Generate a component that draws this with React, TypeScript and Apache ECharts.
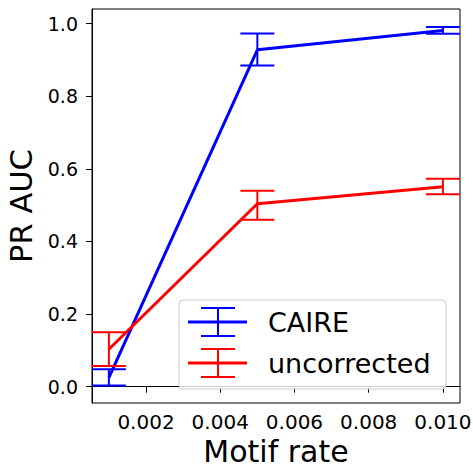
import React, { useEffect, useRef } from "react";
import * as echarts from "echarts";

const xValues = [0.001, 0.005, 0.01];
const caireMean = [0.025, 0.928, 0.981];
const caireLow = [0.003, 0.885, 0.972];
const caireHigh = [0.048, 0.973, 0.991];
const uncMean = [0.103, 0.504, 0.551];
const uncLow = [0.057, 0.46, 0.53];
const uncHigh = [0.15, 0.54, 0.573];
const xTicks = [0.002, 0.004, 0.006, 0.008, 0.01];
const yTicks = [0, 0.2, 0.4, 0.6, 0.8, 1.0];
const seriesNames = ["CAIRE", "uncorrected"];
const seriesColors = ["#0000ff", "#ff0000"];

const FONT = "DejaVu Sans";

function errRender(color: string) {
  return (params: any, api: any) => {
    const x = api.value(0);
    const lo = api.value(1);
    const hi = api.value(2);
    const pLo = api.coord([x, lo]);
    const pHi = api.coord([x, hi]);
    const half = 17;
    const style = { stroke: color, lineWidth: 2 };
    return {
      type: "group",
      children: [
        { type: "line", shape: { x1: pLo[0], y1: pLo[1], x2: pHi[0], y2: pHi[1] }, style },
        { type: "line", shape: { x1: pLo[0] - half, y1: pLo[1], x2: pLo[0] + half, y2: pLo[1] }, style },
        { type: "line", shape: { x1: pHi[0] - half, y1: pHi[1], x2: pHi[0] + half, y2: pHi[1] }, style },
      ],
    };
  };
}

function legendRow(i: number) {
  const cy = 322 + 41 * i;
  const color = seriesColors[i];
  return [
    { type: "line", z: 101, shape: { x1: 188, y1: cy, x2: 247, y2: cy }, style: { stroke: color, lineWidth: 3 } },
    { type: "line", z: 101, shape: { x1: 218, y1: cy - 14, x2: 218, y2: cy + 14 }, style: { stroke: color, lineWidth: 2 } },
    { type: "line", z: 101, shape: { x1: 201, y1: cy - 14, x2: 235, y2: cy - 14 }, style: { stroke: color, lineWidth: 2 } },
    { type: "line", z: 101, shape: { x1: 201, y1: cy + 14, x2: 235, y2: cy + 14 }, style: { stroke: color, lineWidth: 2 } },
    {
      type: "text",
      z: 101,
      x: 268,
      y: cy,
      style: { text: seriesNames[i], fontSize: 27, fontFamily: FONT, fill: "#000", verticalAlign: "middle", align: "left" },
    },
  ];
}

export default function App() {
  const ref = useRef<HTMLDivElement>(null);
  useEffect(() => {
    if (!ref.current) return;
    const chart = echarts.init(ref.current, undefined, { renderer: "svg" });
    const means = [caireMean, uncMean];
    const lows = [caireLow, uncLow];
    const highs = [caireHigh, uncHigh];
    const series: any[] = [];
    for (let s = 0; s < 2; s++) {
      series.push({
        type: "line",
        name: seriesNames[s],
        data: xValues.map((x, i) => [x, means[s][i]]),
        showSymbol: false,
        lineStyle: { color: seriesColors[s], width: 3 },
        itemStyle: { color: seriesColors[s] },
        z: 2 + s * 2,
      });
      series.push({
        type: "custom",
        name: seriesNames[s] + " err",
        data: xValues.map((x, i) => [x, lows[s][i], highs[s][i]]),
        encode: { x: 0, y: [1, 2] },
        renderItem: errRender(seriesColors[s]),
        z: 3 + s * 2,
      });
    }
    chart.setOption({
      animation: false,
      textStyle: { fontFamily: FONT },
      grid: {
        left: 92,
        right: 13,
        top: 9,
        bottom: 65,
        show: true,
        borderColor: "#000",
        borderWidth: 1,
        backgroundColor: "transparent",
        containLabel: false,
        outerBoundsMode: "none",
      },
      xAxis: {
        type: "value",
        min: 0.000545,
        max: 0.01046,
        name: "Motif rate",
        nameLocation: "middle",
        nameGap: 48,
        nameMoveOverlap: false,
        nameTextStyle: { fontSize: 30, fontFamily: FONT, color: "#000", verticalAlign: "middle", lineHeight: 26 },
        splitLine: { show: false },
        axisLine: { show: true, lineStyle: { color: "#000", width: 1 } },
        axisTick: { show: true, length: 6, lineStyle: { color: "#000" }, customValues: xTicks },
        axisLabel: {
          show: true,
          fontSize: 20,
          lineHeight: 20,
          color: "#000",
          fontFamily: FONT,
          margin: 9,
          hideOverlap: false,
          customValues: xTicks,
          formatter: (v: number) => v.toFixed(3),
        },
      },
      yAxis: {
        type: "value",
        min: -0.045,
        max: 1.0405,
        name: "PR AUC",
        nameLocation: "middle",
        nameGap: 55,
        nameMoveOverlap: false,
        nameTextStyle: { fontSize: 30.5, fontFamily: FONT, color: "#000" },
        splitLine: { show: false },
        axisLine: { show: true, lineStyle: { color: "#000", width: 1 } },
        axisTick: { show: true, length: 6, lineStyle: { color: "#000" }, customValues: yTicks },
        axisLabel: {
          fontSize: 19,
          color: "#000",
          fontFamily: FONT,
          margin: 14,
          customValues: yTicks,
          formatter: (v: number) => v.toFixed(1),
        },
      },
      series,
      graphic: [
        {
          type: "group",
          z: 100,
          children: [
            {
              type: "rect",
              z: 100,
              shape: { x: 179, y: 300, width: 267, height: 89, r: 4 },
              style: { fill: "rgba(255,255,255,0.8)", stroke: "#cccccc", lineWidth: 1 },
            },
            ...legendRow(0),
            ...legendRow(1),
          ],
        },
      ],
    });
    return () => chart.dispose();
  }, []);
  return <div ref={ref} style={{ width: 473, height: 468, position: "absolute", left: 0, top: 0 }} />;
}
